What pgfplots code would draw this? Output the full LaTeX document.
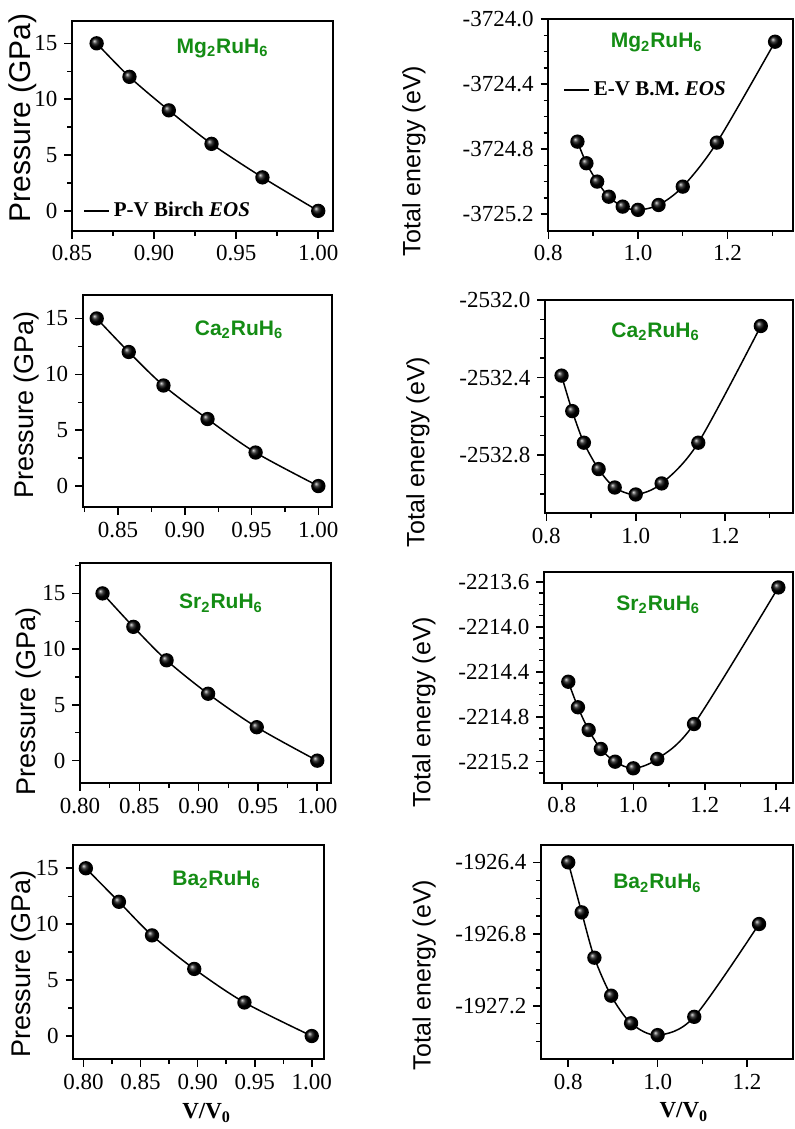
\documentclass[border=0pt]{standalone}
\usepackage{fontspec}
\setmainfont{Liberation Serif}
\setsansfont{Liberation Sans}
\usepackage{pgfplots}
\pgfplotsset{compat=1.18}
\definecolor{tgreen}{RGB}{20,140,20}
\tikzset{ttl/.style={font=\sffamily\bfseries\fontsize{10.5}{12}\selectfont, text=tgreen}}
\pgfplotsset{
 panel/.style={
   scale only axis, anchor=south west,
   axis line style={line width=0.9pt},
   major tick style={black, line width=0.8pt},
   minor tick style={black, line width=0.7pt},
   tick align=outside, tick pos=left,
   major tick length=3.8pt, minor tick length=2.4pt,
   scaled ticks=false,
   tick label style={font=\fontsize{11.5}{13}\selectfont},
   /pgf/number format/assume math mode=true,
   /pgf/number format/1000 sep={},
   clip=false,
 },
 ppanel/.style={panel, ytick={0,5,10,15}, minor ytick={2.5,7.5,12.5},
   xticklabel style={/pgf/number format/.cd, fixed, fixed zerofill, precision=2},
   yticklabel style={/pgf/number format/.cd, fixed, precision=0},
   ylabel={Pressure (GPa)}},
 epanel/.style={panel,
   xticklabel style={/pgf/number format/.cd, fixed, fixed zerofill, precision=1},
   yticklabel style={/pgf/number format/.cd, fixed, fixed zerofill, precision=1},
   ylabel={Total energy (eV)}},
 dat/.style={black, line width=0.75pt, smooth, mark=ball, mark size=3.2pt, mark options={ball color=black}},
 leg/.style={legend style={draw=none, fill=none, at={#1}, anchor=west, inner sep=0pt,
   font=\bfseries\fontsize{10.5}{12}\selectfont},
   legend image code/.code={\draw[##1] (0pt,0pt) -- (12.5pt,0pt);}},
 vlab/.style={xlabel={V/V\textsubscript{0}}, xlabel style={font=\bfseries\fontsize{11.5}{13}\selectfont, at={#1}, anchor=center}},
}
\begin{document}
\begin{tikzpicture}
\useasboundingbox (0,0) rectangle (397.5pt,564.5pt);
% ---------- Row 1 ----------
\begin{axis}[ppanel, at={(36pt,449pt)}, width=130.5pt, height=105pt,
  xmin=0.85, xmax=1.009, ymin=-1.8, ymax=17,
  xtick={0.85,0.90,0.95,1.00}, minor xtick={0.875,0.925,0.975},
  ylabel style={font=\sffamily\fontsize{15}{17}\selectfont, at={(axis description cs:-0.187,0.538)}, anchor=center},
  leg={(0.042,0.095)}]
\addlegendimage{black, line width=0.75pt}
\addlegendentry{P-V Birch \textit{EOS}}
\addplot[dat, forget plot] coordinates {(0.865,15) (0.885,12) (0.909,9) (0.935,6) (0.966,3) (1.0,0)};
\node[ttl] at (rel axis cs:0.577,0.871) {Mg\textsubscript{2}RuH\textsubscript{6}};
\end{axis}
\begin{axis}[epanel, at={(274.15pt,449pt)}, width=122.35pt, height=105.85pt,
  xmin=0.8, xmax=1.346, ymin=-3725.303, ymax=-3724.0,
  xtick={0.8,1.0,1.2}, minor xtick={0.9,1.1,1.3},
  ytick={-3725.2,-3724.8,-3724.4,-3724.0},
  minor ytick={-3725.1,-3725.0,-3724.9,-3724.7,-3724.6,-3724.5,-3724.3,-3724.2,-3724.1},
  ylabel style={font=\sffamily\fontsize{12.5}{14}\selectfont, at={(axis description cs:-0.549,0.331)}, anchor=center},
  leg={(0.06,0.666)}]
\addlegendimage{black, line width=0.75pt}
\addlegendentry{E-V B.M. \textit{EOS}}
\addplot[dat, forget plot] coordinates {(0.865,-3724.753) (0.885,-3724.886) (0.909,-3724.999) (0.935,-3725.092) (0.966,-3725.153) (1.0,-3725.173) (1.046,-3725.143) (1.1,-3725.03) (1.176,-3724.759) (1.306,-3724.138)};
\node[ttl] at (rel axis cs:0.443,0.888) {Mg\textsubscript{2}RuH\textsubscript{6}};
\end{axis}
% ---------- Row 2 ----------
\begin{axis}[ppanel, at={(41.35pt,310.85pt)}, width=124.5pt, height=106.15pt,
  xmin=0.8235, xmax=1.010, ymin=-1.9, ymax=17.1,
  xtick={0.85,0.90,0.95,1.00}, minor xtick={0.825,0.875,0.925,0.975},
  ylabel style={font=\sffamily\fontsize{13.5}{15}\selectfont, at={(axis description cs:-0.224,0.482)}, anchor=center}]
\addplot[dat] coordinates {(0.834,15) (0.858,12) (0.884,9) (0.917,6) (0.953,3) (1.0,0)};
\node[ttl] at (rel axis cs:0.628,0.835) {Ca\textsubscript{2}RuH\textsubscript{6}};
\end{axis}
\begin{axis}[epanel, at={(272.5pt,307.85pt)}, width=124pt, height=106.65pt,
  xmin=0.797, xmax=1.352, ymin=-2533.10, ymax=-2532.0,
  xtick={0.8,1.0,1.2}, minor xtick={0.9,1.1,1.3},
  ytick={-2532.8,-2532.4,-2532.0},
  minor ytick={-2533.0,-2532.9,-2532.7,-2532.6,-2532.5,-2532.3,-2532.2,-2532.1},
  ylabel style={font=\sffamily\fontsize{12.5}{14}\selectfont, at={(axis description cs:-0.512,0.287)}, anchor=center}]
\addplot[dat] coordinates {(0.834,-2532.39) (0.858,-2532.573) (0.884,-2532.736) (0.917,-2532.872) (0.953,-2532.967) (1.0,-2533.003) (1.058,-2532.946) (1.14,-2532.736) (1.28,-2532.134)};
\node[ttl] at (rel axis cs:0.446,0.851) {Ca\textsubscript{2}RuH\textsubscript{6}};
\end{axis}
% ---------- Row 3 ----------
\begin{axis}[ppanel, at={(40pt,172.85pt)}, width=125.5pt, height=110pt,
  xmin=0.80, xmax=1.0116, ymin=-2.03, ymax=17.7,
  xtick={0.80,0.85,0.90,0.95,1.00}, minor xtick={0.825,0.875,0.925,0.975},
  minor ytick={2.5,7.5,12.5,17.5},
  ylabel style={font=\sffamily\fontsize{13.5}{15}\selectfont, at={(axis description cs:-0.206,0.371)}, anchor=center}]
\addplot[dat] coordinates {(0.819,15) (0.845,12) (0.873,9) (0.908,6) (0.949,3) (1.0,0)};
\node[ttl] at (rel axis cs:0.562,0.818) {Sr\textsubscript{2}RuH\textsubscript{6}};
\end{axis}
\begin{axis}[epanel, at={(272pt,173.15pt)}, width=124.5pt, height=105.5pt,
  xmin=0.75, xmax=1.447, ymin=-2215.387, ymax=-2213.51,
  xtick={0.8,1.0,1.2,1.4}, minor xtick={0.9,1.1,1.3},
  ytick={-2215.2,-2214.8,-2214.4,-2214.0,-2213.6},
  minor ytick={-2215.3,-2215.1,-2215.0,-2214.9,-2214.7,-2214.6,-2214.5,-2214.3,-2214.2,-2214.1,-2213.9,-2213.8,-2213.7},
  ylabel style={font=\sffamily\fontsize{12.5}{14}\selectfont, at={(axis description cs:-0.482,0.335)}, anchor=center}]
\addplot[dat] coordinates {(0.818,-2214.489) (0.845,-2214.716) (0.875,-2214.918) (0.909,-2215.087) (0.949,-2215.2) (1.0,-2215.259) (1.067,-2215.176) (1.17,-2214.865) (1.406,-2213.65)};
\node[ttl] at (rel axis cs:0.459,0.842) {Sr\textsubscript{2}RuH\textsubscript{6}};
\end{axis}
% ---------- Row 4 ----------
\begin{axis}[ppanel, at={(36.65pt,34.85pt)}, width=125.5pt, height=107.15pt,
  xmin=0.791, xmax=1.011, ymin=-2.08, ymax=17.08,
  xtick={0.80,0.85,0.90,0.95,1.00}, minor xtick={0.825,0.875,0.925,0.975},
  ylabel style={font=\sffamily\fontsize{13.5}{15}\selectfont, at={(axis description cs:-0.199,0.445)}, anchor=center},
  vlab={(axis description cs:0.531,-0.25)}]
\addplot[dat] coordinates {(0.802,15) (0.831,12) (0.860,9) (0.897,6) (0.941,3) (1.0,0)};
\node[ttl] at (rel axis cs:0.571,0.837) {Ba\textsubscript{2}RuH\textsubscript{6}};
\end{axis}
\begin{axis}[epanel, at={(270.5pt,34.85pt)}, width=126pt, height=107.15pt,
  xmin=0.739, xmax=1.303, ymin=-1927.499, ymax=-1926.303,
  xtick={0.8,1.0,1.2}, minor xtick={0.9,1.1},
  ytick={-1927.2,-1926.8,-1926.4},
  minor ytick={-1927.4,-1927.3,-1927.1,-1927.0,-1926.9,-1926.7,-1926.6,-1926.5},
  ylabel style={font=\sffamily\fontsize{12.5}{14}\selectfont, at={(axis description cs:-0.464,0.393)}, anchor=center},
  vlab={(axis description cs:0.567,-0.246)}]
\addplot[dat] coordinates {(0.800,-1926.4) (0.830,-1926.679) (0.8585,-1926.932) (0.896,-1927.144) (0.9406,-1927.298) (1.0,-1927.364) (1.082,-1927.262) (1.227,-1926.744)};
\node[ttl] at (rel axis cs:0.462,0.821) {Ba\textsubscript{2}RuH\textsubscript{6}};
\end{axis}
\end{tikzpicture}
\end{document}
